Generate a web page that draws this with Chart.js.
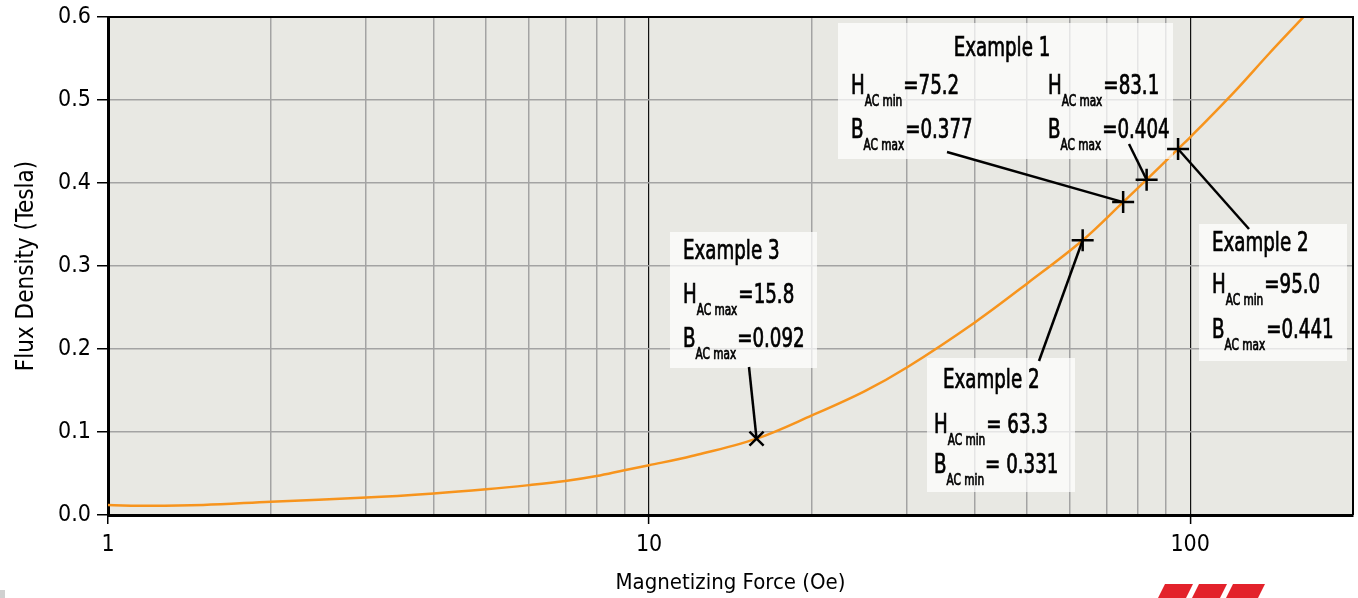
<!DOCTYPE html>
<html lang="en">
<head>
<meta charset="UTF-8">
<title>Flux Density vs Magnetizing Force</title>
<script src="https://cdn.jsdelivr.net/npm/chart.js@4.4.0/dist/chart.umd.min.js"></script>
<style>
  html, body { margin: 0; padding: 0; background: #fff; }
  #wrap { width: 1358px; height: 598px; position: relative; }
</style>
</head>
<body>
<div id="wrap"><canvas id="bhChart"></canvas></div>
<script>
// B-H curve (H in Oe, B in Tesla)
const hCurve = [1, 1.2, 1.5, 2, 3, 4, 5, 6, 7, 8, 9, 10, 12, 15.8, 20, 25, 30, 40, 50, 63.3, 75.2, 83.1, 95, 100, 120, 140, 170, 200];
const bCurve = [0.012, 0.011, 0.012, 0.016, 0.021, 0.026, 0.031, 0.036, 0.041, 0.047, 0.054, 0.060, 0.071, 0.092, 0.120, 0.149, 0.178, 0.232, 0.279, 0.331, 0.377, 0.404, 0.441, 0.455, 0.508, 0.556, 0.615, 0.668];

// worked example points
const markH = [15.8, 63.3, 75.2, 83.1, 95.0];
const markB = [0.092, 0.331, 0.377, 0.404, 0.441];
const markStyle = ['crossRot', 'cross', 'cross', 'cross', 'cross'];

// axis ticks
const xTickValues = [1, 2, 3, 4, 5, 6, 7, 8, 9, 10, 20, 30, 40, 50, 60, 70, 80, 90, 100, 200];
const xLabelled = [1, 10, 100];
const xMajor = [10, 100];

// callout texts: [letter, subscript, value]
const callouts = [
  { title: 'Example 1', rows: [['H', 'AC min', '=75.2'], ['B', 'AC max', '=0.377'], ['H', 'AC max', '=83.1'], ['B', 'AC max', '=0.404']], marks: [2, 3] },
  { title: 'Example 2', rows: [['H', 'AC min', '=95.0'], ['B', 'AC max', '=0.441']], marks: [4] },
  { title: 'Example 3', rows: [['H', 'AC max', '=15.8'], ['B', 'AC max', '=0.092']], marks: [0] },
  { title: 'Example 2', rows: [['H', 'AC min', '= 63.3'], ['B', 'AC min', '= 0.331']], marks: [1] }
];

const FONT = "'Liberation Sans Narrow', 'DejaVu Sans Condensed', 'Arial Narrow', sans-serif";
Chart.defaults.font.family = FONT;
Chart.defaults.color = '#000';

// pixel layout of the callout boxes
const calloutLayout = [
  { box: [838, 23, 335, 136], title: [1002, 56, 'center'], rows: [[851, 94], [851, 138], [1048, 94], [1048, 138]], leaders: [[947, 152], [1129, 144]] },
  { box: [1199, 224, 148, 137], title: [1212, 251, 'left'], rows: [[1212, 293], [1212, 338]], leaders: [[1249, 229]] },
  { box: [670, 232, 147, 136], title: [683, 259, 'left'], rows: [[683, 303], [683, 347]], leaders: [[749, 367]] },
  { box: [927, 358, 148, 134], title: [943, 388, 'left'], rows: [[934, 433], [934, 473]], leaders: [[1039, 361]] }
];
const SQUEEZE = 0.78; // the original face is much narrower than the fonts on hand

function narrowText(ctx, text, x, y, size, align) {
  ctx.save();
  ctx.font = size + 'px ' + FONT;
  ctx.textBaseline = 'alphabetic';
  ctx.textAlign = 'left';
  const w = ctx.measureText(text).width * SQUEEZE;
  const left = align === 'center' ? x - w / 2 : x;
  ctx.translate(left, y);
  ctx.scale(SQUEEZE, 1);
  ctx.lineWidth = 0.7;
  ctx.strokeStyle = '#000';
  ctx.fillText(text, 0, 0);
  ctx.strokeText(text, 0, 0);
  ctx.restore();
  return w;
}

function drawSubText(ctx, x, y, parts) {
  x += narrowText(ctx, parts[0], x, y, 26);
  x += narrowText(ctx, parts[1], x, y + 12, 15) + 1;
  narrowText(ctx, parts[2], x, y, 26);
}

const calloutPlugin = {
  id: 'callouts',
  beforeDraw(chart) {
    const { ctx, chartArea: a } = chart;
    ctx.save();
    ctx.fillStyle = '#e8e8e3';
    ctx.fillRect(a.left, a.top, a.right - a.left, a.bottom - a.top);
    ctx.restore();
  },
  beforeDatasetDraw(chart, args) {
    if (args.index !== 1) return;
    const ctx = chart.ctx;
    ctx.save();
    callouts.forEach((c, i) => {
      const L = calloutLayout[i];
      ctx.fillStyle = 'rgba(255,255,255,0.72)';
      ctx.fillRect(L.box[0], L.box[1], L.box[2], L.box[3]);
      ctx.fillStyle = '#000';
      narrowText(ctx, c.title, L.title[0], L.title[1], 26, L.title[2]);
      c.rows.forEach((r, j) => drawSubText(ctx, L.rows[j][0], L.rows[j][1], r));
    });
    ctx.restore();
  },
  afterDatasetsDraw(chart) {
    const { ctx, scales } = chart;
    ctx.save();
    ctx.strokeStyle = '#000';
    ctx.lineWidth = 2.5;
    callouts.forEach((c, i) => {
      const L = calloutLayout[i];
      c.marks.forEach((m, k) => {
        ctx.beginPath();
        ctx.moveTo(L.leaders[k][0], L.leaders[k][1]);
        ctx.lineTo(scales.x.getPixelForValue(markH[m]), scales.y.getPixelForValue(markB[m]));
        ctx.stroke();
      });
    });
    ctx.restore();
  },
  afterDraw(chart) {
    const { ctx, chartArea: a } = chart;
    ctx.save();
    ctx.strokeStyle = '#000';
    ctx.lineWidth = 2;
    ctx.beginPath();
    ctx.moveTo(a.left, a.top);
    ctx.lineTo(a.right, a.top);
    ctx.lineTo(a.right, a.bottom);
    ctx.stroke();
    // small marks at the page edge
    ctx.fillStyle = '#d0d0d0';
    ctx.fillRect(0, 590, 5, 8);
    ctx.fillStyle = '#e3222b';
    [[1158, 28], [1192, 28], [1226, 32]].forEach(([x, w]) => {
      ctx.beginPath();
      ctx.moveTo(x + 7, 584);
      ctx.lineTo(x + 7 + w, 584);
      ctx.lineTo(x + w, 598);
      ctx.lineTo(x, 598);
      ctx.closePath();
      ctx.fill();
    });
    ctx.restore();
  }
};

new Chart(document.getElementById('bhChart'), {
  type: 'line',
  data: {
    datasets: [
      {
        label: 'B-H curve',
        data: hCurve.map((h, i) => ({ x: h, y: bCurve[i] })),
        borderColor: '#f7941d',
        borderWidth: 2.5,
        pointRadius: 0,
        tension: 0.35,
        order: 2
      },
      {
        label: 'Examples',
        data: markH.map((h, i) => ({ x: h, y: markB[i] })),
        showLine: false,
        pointStyle: markStyle,
        pointRadius: markStyle.map(s => s === 'cross' ? 11 : 10),
        borderColor: '#000',
        borderWidth: 2.5,
        order: 1,
        clip: false
      }
    ]
  },
  options: {
    responsive: true,
    maintainAspectRatio: false,
    animation: false,
    layout: { autoPadding: false, padding: { top: 17, right: 5, left: 0, bottom: 0 } },
    plugins: {
      legend: { display: false },
      tooltip: { enabled: false }
    },
    scales: {
      x: {
        type: 'logarithmic',
        min: 1,
        max: 200,
        afterBuildTicks: (scale) => { scale.ticks = xTickValues.map(v => ({ value: v })); },
        afterFit: (scale) => { scale.height = 83; scale.paddingRight = 0; },
        ticks: {
          autoSkip: false,
          maxRotation: 0,
          padding: 7,
          font: { size: 23 },
          callback: (v) => xLabelled.includes(v) ? String(v) : ''
        },
        grid: {
          color: (c) => xMajor.includes(c.tick && c.tick.value) ? '#111' : '#a3a3a3',
          lineWidth: (c) => xMajor.includes(c.tick && c.tick.value) ? 1.2 : 1.5,
          tickColor: (c) => xLabelled.includes(c.tick && c.tick.value) ? '#000' : 'rgba(0,0,0,0)',
          tickLength: 9,
          tickWidth: 1.5
        },
        border: { color: '#000', width: 3 },
        title: {
          display: true,
          text: 'Magnetizing Force (Oe)',
          font: { size: 22 },
          padding: { top: 0, bottom: 2 }
        }
      },
      y: {
        min: 0,
        max: 0.6,
        afterFit: (scale) => { scale.width = 108; scale.paddingTop = 0; },
        ticks: {
          stepSize: 0.1,
          padding: 6,
          font: { size: 23 },
          callback: (v) => v.toFixed(1)
        },
        grid: {
          color: '#a3a3a3',
          lineWidth: 1.5,
          tickColor: '#000',
          tickLength: 11,
          tickWidth: 1.5
        },
        border: { color: '#000', width: 3 },
        title: {
          display: true,
          text: 'Flux Density (Tesla)',
          font: { size: 24 },
          padding: { top: 12, bottom: 0 }
        }
      }
    }
  },
  plugins: [calloutPlugin]
});
</script>
</body>
</html>
